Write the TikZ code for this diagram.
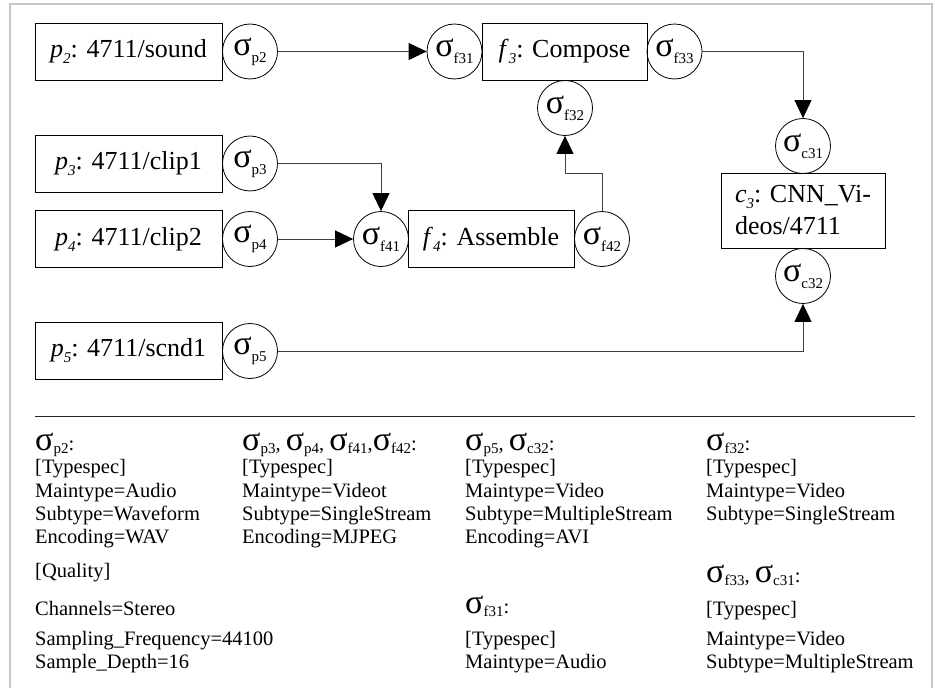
\documentclass[tikz,border=0pt]{standalone}
\usepackage{fontspec}
\setmainfont{Liberation Serif}
\usetikzlibrary{arrows.meta}
\newcommand{\sgm}[1]{{\fontsize{34}{34}\selectfont σ}\raisebox{-7pt}{\fontsize{15}{15}\selectfont #1}}
\newcommand{\sgb}[1]{{\fontsize{34}{34}\selectfont σ}\raisebox{-3.5pt}{\fontsize{15}{15}\selectfont #1}}
\newcommand{\pl}[2]{\textit{#1}\raisebox{-6pt}{\fontsize{15}{15}\selectfont\textit{#2}}}
\begin{document}
\begin{tikzpicture}[x=1pt,y=-1pt,
  box/.style={draw=black, line width=0.9pt, minimum height=57pt, inner sep=0pt, font=\fontsize{26}{32}\selectfont},
  sg/.style={draw=black, circle, minimum size=55pt, inner sep=0pt, line width=0.8pt},
  con/.style={draw=black!75, line width=1pt, -{Triangle[length=18pt,width=17pt,color=black]}},
  lbl/.style={anchor=base west, inner sep=0pt, font=\fontsize{20.5}{23}\selectfont}]
\useasboundingbox (0,0) rectangle (935,688);
\draw[black!22, line width=1.2pt] (10,688) -- (10,4) -- (932,4) -- (932,688);

% boxes
\node[box, minimum width=187pt] (p2) at (128.5,51.5) {\pl{p}{2}: 4711/sound};
\node[box, minimum width=187pt] (p3) at (128.5,163.5) {\pl{p}{3}: 4711/clip1};
\node[box, minimum width=187pt] (p4) at (128.5,239) {\pl{p}{4}: 4711/clip2};
\node[box, minimum width=187pt] (p5) at (128.5,351) {\pl{p}{5}: 4711/scnd1};
\node[box, minimum width=165pt] (f3) at (564.5,51.5) {\pl{f}{3}: Compose};
\node[box, minimum width=166pt] (f4) at (491,239) {\pl{f}{4}: Assemble};
\node[box, minimum width=164pt, minimum height=75pt, align=left] (c3) at (803,210.5) {\pl{c}{3}: CNN\_Vi-\\deos/4711};

% sigma circles
\node[sg] (sp2) at (250,51.5) {\sgm{p2}};
\node[sg] (sp3) at (250,163.5) {\sgm{p3}};
\node[sg] (sp4) at (250,239) {\sgm{p4}};
\node[sg] (sp5) at (250,351) {\sgm{p5}};
\node[sg] (sf31) at (454.5,51.5) {\sgm{f31}};
\node[sg] (sf33) at (674.5,51.5) {\sgm{f33}};
\node[sg] (sf32) at (565,108) {\sgm{f32}};
\node[sg] (sf41) at (381,239) {\sgm{f41}};
\node[sg] (sf42) at (602,239) {\sgm{f42}};
\node[sg] (sc31) at (803,146) {\sgm{c31}};
\node[sg] (sc32) at (803,276) {\sgm{c32}};

% connectors
\coordinate (bend) at (602,173);
\draw[con] (sp2.east) -- (sf31.west);
\draw[con] (sp3.east) -| (sf41.north);
\draw[con] (sp4.east) -- (sf41.west);
\draw[con] (sf42.north) -- (bend) -| (sf32.south);
\draw[con] (sf33.east) -| (sc31.north);
\draw[con] (sp5.east) -| (sc32.south);

% separator
\draw[black!85, line width=1pt] (35,416) -- (915,416);

% column 1
\node[lbl] (a0) at (35,450) {\sgb{p2}:};
\node[lbl] (a1) at (35,473) {[Typespec]};
\node[lbl] (a2) at (35,497) {Maintype=Audio};
\node[lbl] (a3) at (35,520) {Subtype=Waveform};
\node[lbl] (a4) at (35,543) {Encoding=WAV};
\node[lbl] (a5) at (35,577) {[Quality]};
\node[lbl] (a6) at (35,615) {Channels=Stereo};
\node[lbl] (a7) at (35,645) {Sampling\_Frequency=44100};
\node[lbl] (a8) at (35,668) {Sample\_Depth=16};

% column 2
\node[lbl] (b0) at (242,450) {\sgb{p3}, \sgb{p4}, \sgb{f41},\sgb{f42}:};
\node[lbl] (b1) at (242,473) {[Typespec]};
\node[lbl] (b2) at (242,497) {Maintype=Videot};
\node[lbl] (b3) at (242,520) {Subtype=SingleStream};
\node[lbl] (b4) at (242,543) {Encoding=MJPEG};

% column 3
\node[lbl] (c0) at (465,450) {\sgb{p5}, \sgb{c32}:};
\node[lbl] (c1) at (465,473) {[Typespec]};
\node[lbl] (c2) at (465,497) {Maintype=Video};
\node[lbl] (c3l) at (465,520) {Subtype=MultipleStream};
\node[lbl] (c4) at (465,543) {Encoding=AVI};
\node[lbl] (c5) at (465,613) {\sgb{f31}:};
\node[lbl] (c6) at (465,645) {[Typespec]};
\node[lbl] (c7) at (465,668) {Maintype=Audio};

% column 4
\node[lbl] (d0) at (706,450) {\sgb{f32}:};
\node[lbl] (d1) at (706,473) {[Typespec]};
\node[lbl] (d2) at (706,497) {Maintype=Video};
\node[lbl] (d3) at (706,520) {Subtype=SingleStream};
\node[lbl] (d4) at (706,582) {\sgb{f33}, \sgb{c31}:};
\node[lbl] (d5) at (706,615) {[Typespec]};
\node[lbl] (d6) at (706,645) {Maintype=Video};
\node[lbl] (d7) at (706,668) {Subtype=MultipleStream};
\end{tikzpicture}
\end{document}
